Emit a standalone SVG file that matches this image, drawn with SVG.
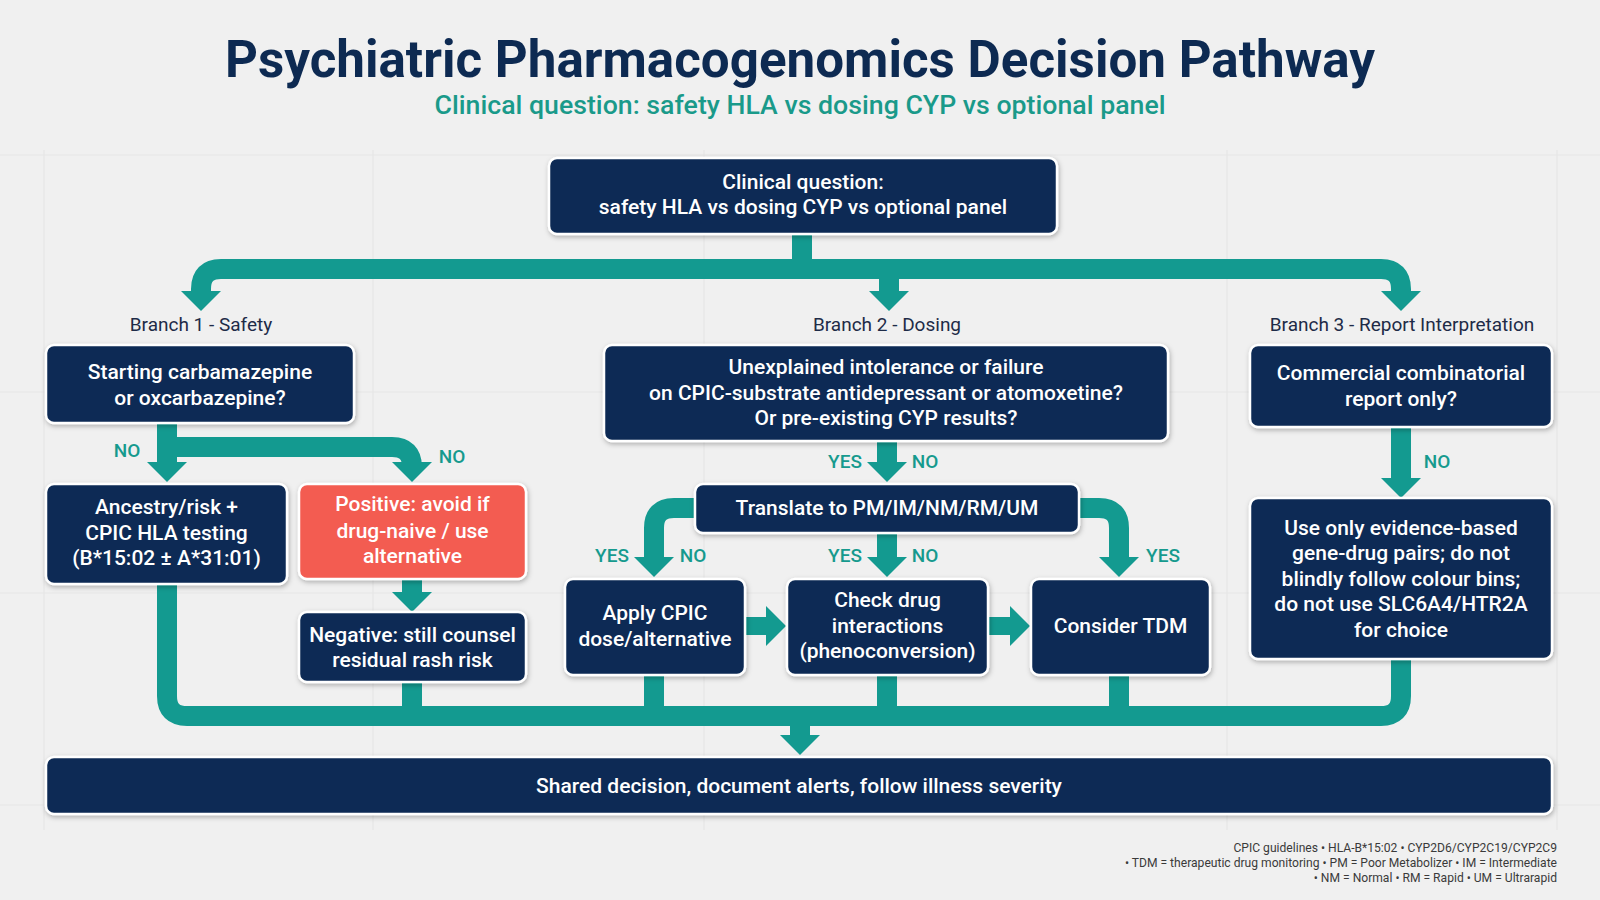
<svg xmlns="http://www.w3.org/2000/svg" width="1600" height="900" viewBox="0 0 1600 900">
<defs>
<filter id="sh" x="-10%" y="-20%" width="120%" height="150%">
<feDropShadow dx="1" dy="2" stdDeviation="2.5" flood-color="#000" flood-opacity="0.28"/>
</filter>
<style>
.bg{fill:#f0f0f0}
.grid{stroke:#e6e6e6;stroke-width:1.2}
.box{fill:#0c2a54;stroke:#ffffff;stroke-width:2.5;filter:url(#sh)}
.red{fill:#f35b51}
.t{font-family:Roboto,"Liberation Sans",sans-serif;font-size:21px;font-weight:500;fill:#ffffff;text-anchor:middle}
.conn{fill:none;stroke:#139a90;stroke-width:20}
.head{fill:#139a90}
.lbl{font-family:Roboto,"Liberation Sans",sans-serif;font-size:19px;font-weight:500;fill:#169a8e;text-anchor:middle}
.br{font-family:Roboto,"Liberation Sans",sans-serif;font-size:19px;font-weight:400;fill:#1e2b47;text-anchor:middle}
.foot{font-family:Roboto,"Liberation Sans",sans-serif;font-size:12.1px;fill:#3a3a3a;text-anchor:end}
</style>
</defs>
<rect class="bg" x="0" y="0" width="1600" height="900"/>
<g id="grid">
<line class="grid" x1="44" y1="150" x2="44" y2="830"/>
<line class="grid" x1="373" y1="150" x2="373" y2="830"/>
<line class="grid" x1="704" y1="150" x2="704" y2="830"/>
<line class="grid" x1="1227" y1="150" x2="1227" y2="830"/>
<line class="grid" x1="1557" y1="150" x2="1557" y2="830"/>
<line class="grid" x1="0" y1="155" x2="1600" y2="155"/>
<line class="grid" x1="0" y1="392" x2="1600" y2="392"/>
<line class="grid" x1="0" y1="593" x2="1600" y2="593"/>
<line class="grid" x1="0" y1="805" x2="1600" y2="805"/>
</g>
<g id="title">
<text x="800" y="77" textLength="1150" lengthAdjust="spacingAndGlyphs" style="font-family:Roboto,'Liberation Sans',sans-serif;font-size:52px;font-weight:700;fill:#0d2a52;text-anchor:middle">Psychiatric Pharmacogenomics Decision Pathway</text>
<text x="800" y="114" textLength="731" lengthAdjust="spacingAndGlyphs" style="font-family:Roboto,'Liberation Sans',sans-serif;font-size:26px;font-weight:500;fill:#1a9a8a;text-anchor:middle">Clinical question: safety HLA vs dosing CYP vs optional panel</text>
</g>
<g id="connectors">
<path class="conn" d="M802,234 V269"/>
<path class="conn" d="M201,293 V289 Q201,269 221,269 H1381 Q1401,269 1401,289 V293"/>
<path class="conn" d="M889,269 V293"/>
<polygon class="head" points="181,291 221,291 201,311"/>
<polygon class="head" points="869,291 909,291 889,311"/>
<polygon class="head" points="1381,291 1421,291 1401,311"/>
<path class="conn" d="M167,423 V464"/>
<path class="conn" d="M167,447 H392 Q412,447 412,467 V464"/>
<polygon class="head" points="147,462 187,462 167,482"/>
<polygon class="head" points="392,462 432,462 412,482"/>
<path class="conn" d="M412,579 V594"/>
<polygon class="head" points="392,592 432,592 412,612"/>
<path class="conn" d="M887,441 V464"/>
<polygon class="head" points="867,462 907,462 887,482"/>
<path class="conn" d="M695,508 H674 Q654,508 654,528 V559"/>
<path class="conn" d="M1079,508 H1099 Q1119,508 1119,528 V559"/>
<path class="conn" d="M887,533 V559"/>
<polygon class="head" points="634,557 674,557 654,577"/>
<polygon class="head" points="867,557 907,557 887,577"/>
<polygon class="head" points="1099,557 1139,557 1119,577"/>
<path class="conn" d="M745,626 H768" style="stroke-width:18"/>
<polygon class="head" points="766,606 766,646 786,626"/>
<path class="conn" d="M988,626 H1012" style="stroke-width:18"/>
<polygon class="head" points="1010,606 1010,646 1030,626"/>
<path class="conn" d="M1401,427 V480"/>
<polygon class="head" points="1381,478 1421,478 1401,498"/>
<path class="conn" d="M167,584 V696 Q167,716 187,716 H1381 Q1401,716 1401,696 V659"/>
<path class="conn" d="M412,682 V716"/>
<path class="conn" d="M654,675 V716"/>
<path class="conn" d="M887,675 V716"/>
<path class="conn" d="M1119,675 V716"/>
<path class="conn" d="M800,716 V737"/>
<polygon class="head" points="780,735 820,735 800,755"/>
<text class="lbl" x="127" y="457">NO</text>
<text class="lbl" x="452" y="463">NO</text>
<text class="lbl" x="845" y="468">YES</text>
<text class="lbl" x="925" y="468">NO</text>
<text class="lbl" x="612" y="562">YES</text>
<text class="lbl" x="693" y="562">NO</text>
<text class="lbl" x="845" y="562">YES</text>
<text class="lbl" x="925" y="562">NO</text>
<text class="lbl" x="1163" y="562">YES</text>
<text class="lbl" x="1437" y="468">NO</text>
</g>
<g id="branch-labels">
<text class="br" x="201" y="331">Branch 1 - Safety</text>
<text class="br" x="887" y="331">Branch 2 - Dosing</text>
<text class="br" x="1402" y="331">Branch 3 - Report Interpretation</text>
</g>
<g id="n-question">
<rect class="box" x="549" y="158" width="508" height="76" rx="8"/>
<text class="t" x="803" y="189">Clinical question:</text>
<text class="t" x="803" y="214">safety HLA vs dosing CYP vs optional panel</text>
</g>
<g id="n-safety">
<rect class="box" x="46" y="345" width="308" height="78" rx="8"/>
<text class="t" x="200" y="379">Starting carbamazepine</text>
<text class="t" x="200" y="405">or oxcarbazepine?</text>
</g>
<g id="n-dosing">
<rect class="box" x="604" y="345" width="564" height="96" rx="8"/>
<text class="t" x="886" y="374">Unexplained intolerance or failure</text>
<text class="t" x="886" y="400">on CPIC-substrate antidepressant or atomoxetine?</text>
<text class="t" x="886" y="425">Or pre-existing CYP results?</text>
</g>
<g id="n-report">
<rect class="box" x="1250" y="345" width="302" height="82" rx="8"/>
<text class="t" x="1401" y="380">Commercial combinatorial</text>
<text class="t" x="1401" y="406">report only?</text>
</g>
<g id="n-ancestry">
<rect class="box" x="46" y="484" width="241" height="100" rx="8"/>
<text class="t" x="166.5" y="514">Ancestry/risk +</text>
<text class="t" x="166.5" y="540">CPIC HLA testing</text>
<text class="t" x="166.5" y="565">(B*15:02 ± A*31:01)</text>
</g>
<g id="n-positive">
<rect class="box red" x="299" y="484" width="227" height="95" rx="8"/>
<text class="t" x="412.5" y="511">Positive: avoid if</text>
<text class="t" x="412.5" y="538">drug-naive / use</text>
<text class="t" x="412.5" y="563">alternative</text>
</g>
<g id="n-negative">
<rect class="box" x="299" y="612" width="227" height="70" rx="8"/>
<text class="t" x="412.5" y="642">Negative: still counsel</text>
<text class="t" x="412.5" y="667">residual rash risk</text>
</g>
<g id="n-translate">
<rect class="box" x="695" y="484" width="384" height="49" rx="8"/>
<text class="t" x="887" y="515">Translate to PM/IM/NM/RM/UM</text>
</g>
<g id="n-apply">
<rect class="box" x="565" y="579" width="180" height="96" rx="8"/>
<text class="t" x="655" y="620">Apply CPIC</text>
<text class="t" x="655" y="646">dose/alternative</text>
</g>
<g id="n-check">
<rect class="box" x="787" y="579" width="201" height="96" rx="8"/>
<text class="t" x="887.5" y="607">Check drug</text>
<text class="t" x="887.5" y="633">interactions</text>
<text class="t" x="887.5" y="658">(phenoconversion)</text>
</g>
<g id="n-tdm">
<rect class="box" x="1031" y="579" width="179" height="96" rx="8"/>
<text class="t" x="1120.5" y="633">Consider TDM</text>
</g>
<g id="n-evidence">
<rect class="box" x="1250" y="498" width="302" height="161" rx="8"/>
<text class="t" x="1401" y="535">Use only evidence-based</text>
<text class="t" x="1401" y="560">gene-drug pairs; do not</text>
<text class="t" x="1401" y="586">blindly follow colour bins;</text>
<text class="t" x="1401" y="611">do not use SLC6A4/HTR2A</text>
<text class="t" x="1401" y="637">for choice</text>
</g>
<g id="n-shared">
<rect class="box" x="46" y="757" width="1506" height="57" rx="8"/>
<text class="t" x="799" y="793">Shared decision, document alerts, follow illness severity</text>
</g>
<g id="footer">
<text class="foot" x="1557" y="852">CPIC guidelines • HLA-B*15:02 • CYP2D6/CYP2C19/CYP2C9</text>
<text class="foot" x="1557" y="867">• TDM = therapeutic drug monitoring • PM = Poor Metabolizer • IM = Intermediate</text>
<text class="foot" x="1557" y="882">• NM = Normal • RM = Rapid • UM = Ultrarapid</text>
</g>
</svg>
